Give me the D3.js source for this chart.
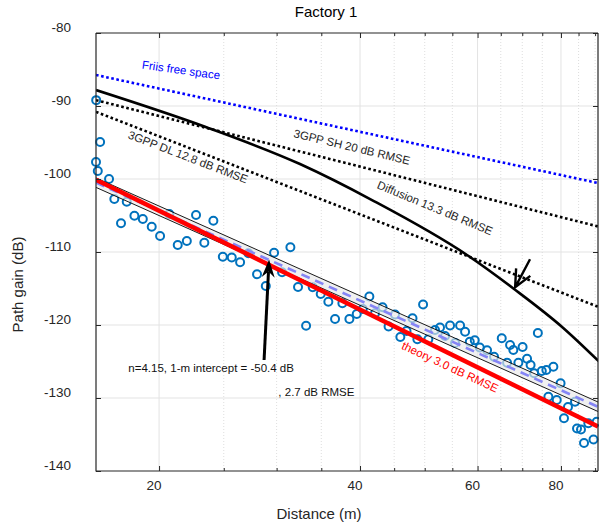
<!DOCTYPE html>
<html><head><meta charset="utf-8">
<script src="https://cdn.jsdelivr.net/npm/d3@7"></script>
<style>
body{margin:0;background:#fff}
text{font-family:"Liberation Sans",Arial,Helvetica,sans-serif}
</style>
</head><body>
<svg id="c" width="599" height="524"></svg>
<script>
// ---------------- data ----------------
const measDist = [16.1,16.32,16.09,16.19,16.83,17.14,17.89,17.54,18.37,18.91,19.5,20.07,20.72,21.33,22.01,22.72,23.38,24.12,24.92,25.7,26.45,27.22,28.04,28.9,29.74,30.57,31.46,32.3,33.21,33.98,34.93,35.86,36.7,37.64,38.56,39.55,40.38,41.31,42.13,43.23,44.14,45.13,45.97,46.96,47.94,48.75,49.72,50.63,51.81,52.71,53.63,54.57,55.52,56.49,57.47,58.41,59.42,60.46,62.0,63.51,65.22,66.43,67.12,67.88,69.07,70.08,71.17,72.04,72.91,73.87,74.88,76.07,77.93,79.89,76.6,78.84,83.97,81.96,80.84,84.55,85.72,87.91,90.5,86.62,89.5];
const measGain = [-89.2,-94.93,-97.67,-98.9,-100.0,-102.74,-103.11,-106.07,-105.03,-105.48,-106.53,-107.81,-104.79,-109.04,-108.49,-104.93,-108.73,-105.71,-110.64,-110.75,-111.41,-110.18,-113.05,-114.66,-110.1,-112.78,-109.36,-114.79,-120.1,-114.84,-115.75,-116.81,-119.18,-117.03,-119.18,-118.49,-117.81,-116.1,-118.4,-117.58,-120.21,-118.56,-121.64,-120.82,-119.08,-121.96,-117.19,-121.96,-120.68,-120.34,-121.51,-120.07,-122.47,-120.07,-120.92,-122.29,-122.1,-123.08,-123.47,-124.34,-121.82,-125.16,-122.74,-123.42,-125.16,-123.01,-124.63,-125.48,-126.62,-121.1,-126.3,-126.16,-125.71,-127.99,-129.82,-130.27,-130.51,-131.23,-132.78,-134.18,-134.32,-133.47,-133.25,-136.16,-135.68];

const lineDist   = [16.09, 90.9];
const friisGain  = [-85.75, -100.55];
const shGain     = [-89.2, -106.5];
const dlGain     = [-90.8, -117.5];
const theoryGain = [-100.1, -133.9];
const fitGain    = [-100.5, -131.2];
const bandUpper  = [-99.85, -130.55];
const bandLower  = [-101.15, -131.85];

const diffDist = [16.09, 23.44, 32.52, 41.69, 57.86, 68.05, 80.31, 91.21];
const diffGain = [-87.81, -92.84, -97.95, -102.88, -110.41, -115.07, -120.27, -125.0];

const xMajor = [20, 40, 60, 80];
const xMinor = [25, 30, 35, 45, 50, 55, 65, 70, 75, 85, 90];
const yTicks = [-140, -130, -120, -110, -100, -90, -80];

// ---------------- layout ----------------
const L = 96, R = 598, T = 33, B = 471;
const svg = d3.select('#c');
const x = d3.scaleLog().domain([16.09, 90.9]).range([L, R]);
const y = d3.scaleLinear().domain([-140, -80]).range([B, T]);
const axisColor = '#262626';

svg.append('defs').append('clipPath').attr('id', 'clip')
  .append('rect').attr('x', L).attr('y', T).attr('width', R - L).attr('height', B - T);

// grid
const grid = svg.append('g');
grid.selectAll('.hg').data(yTicks.filter(v => v > -140 && v < -80)).join('line')
  .attr('x1', L).attr('x2', R).attr('y1', d => y(d)).attr('y2', d => y(d))
  .attr('stroke', '#e3e3e3').attr('stroke-width', 1);
grid.selectAll('.vg').data(xMajor).join('line')
  .attr('x1', d => x(d)).attr('x2', d => x(d)).attr('y1', T).attr('y2', B)
  .attr('stroke', '#e3e3e3').attr('stroke-width', 1);
grid.selectAll('.vm').data(xMinor).join('line')
  .attr('x1', d => x(d)).attr('x2', d => x(d)).attr('y1', T).attr('y2', B)
  .attr('stroke', '#d6d6d6').attr('stroke-width', 0.8).attr('stroke-dasharray', '1,2');

// scatter
svg.append('g').selectAll('circle').data(d3.zip(measDist, measGain)).join('circle')
  .attr('cx', d => x(d[0])).attr('cy', d => y(d[1])).attr('r', 4)
  .attr('fill', 'none').attr('stroke', '#0072BD').attr('stroke-width', 2);

const plot = svg.append('g').attr('clip-path', 'url(#clip)');
const line = d3.line().x(d => x(d[0])).y(d => y(d[1]));

// fit band
plot.append('path').datum(d3.zip(lineDist, bandUpper, bandLower))
  .attr('d', d3.area().x(d => x(d[0])).y0(d => y(d[1])).y1(d => y(d[2])))
  .attr('fill', 'rgba(232,232,232,0.65)');
[bandUpper, bandLower].forEach(g => {
  plot.append('path').datum(d3.zip(lineDist, g)).attr('d', line)
    .attr('fill', 'none').attr('stroke', '#000').attr('stroke-width', 0.9);
});
plot.append('path').datum(d3.zip(lineDist, fitGain)).attr('d', line)
  .attr('fill', 'none').attr('stroke', '#8585f5').attr('stroke-width', 2.6)
  .attr('stroke-dasharray', '9,6');
// theory
plot.append('path').datum(d3.zip(lineDist, theoryGain)).attr('d', line)
  .attr('fill', 'none').attr('stroke', '#ff0000').attr('stroke-width', 4.5);
// friis
plot.append('path').datum(d3.zip(lineDist, friisGain)).attr('d', line)
  .attr('fill', 'none').attr('stroke', '#0000ff').attr('stroke-width', 2.6)
  .attr('stroke-dasharray', '2.6,2.6');
// 3GPP
[shGain, dlGain].forEach(g => {
  plot.append('path').datum(d3.zip(lineDist, g)).attr('d', line)
    .attr('fill', 'none').attr('stroke', '#000').attr('stroke-width', 2.6)
    .attr('stroke-dasharray', '2.6,2.6');
});
// diffusion
plot.append('path').datum(d3.zip(diffDist, diffGain))
  .attr('d', d3.line().x(d => x(d[0])).y(d => y(d[1])).curve(d3.curveMonotoneX))
  .attr('fill', 'none').attr('stroke', '#000').attr('stroke-width', 2.6);

// axes
function styleAxis(g) {
  g.selectAll('.domain').remove();
  g.selectAll('line').attr('stroke', axisColor);
}
const fmt = d => String(d);
const gxB = svg.append('g').attr('transform', `translate(0,${B})`)
  .call(d3.axisBottom(x).tickValues(xMajor).tickFormat(fmt).tickSizeInner(-5).tickSizeOuter(0));
styleAxis(gxB);
gxB.selectAll('text').attr('y', 19).attr('dy', null).attr('dx', -5.5)
  .attr('fill', axisColor).style('font-size', '13.5px');
const gxBm = svg.append('g').attr('transform', `translate(0,${B})`)
  .call(d3.axisBottom(x).tickValues(xMinor).tickFormat('').tickSizeInner(-3).tickSizeOuter(0));
styleAxis(gxBm);
const gxT = svg.append('g').attr('transform', `translate(0,${T})`)
  .call(d3.axisTop(x).tickValues(xMajor).tickFormat('').tickSizeInner(-5).tickSizeOuter(0));
styleAxis(gxT);
const gxTm = svg.append('g').attr('transform', `translate(0,${T})`)
  .call(d3.axisTop(x).tickValues(xMinor).tickFormat('').tickSizeInner(-3).tickSizeOuter(0));
styleAxis(gxTm);
const gyL = svg.append('g').attr('transform', `translate(${L},0)`)
  .call(d3.axisLeft(y).tickValues(yTicks).tickFormat(fmt).tickSizeInner(-5).tickSizeOuter(0));
styleAxis(gyL);
gyL.selectAll('text').attr('x', -25).attr('dy', '0.35em').attr('y', -6.5)
  .attr('fill', axisColor).style('font-size', '13.5px');
const gyR = svg.append('g').attr('transform', `translate(${R},0)`)
  .call(d3.axisRight(y).tickValues(yTicks).tickFormat('').tickSizeInner(-5).tickSizeOuter(0));
styleAxis(gyR);

// box
svg.append('path').attr('d', `M${L},${T}H${R}M${L},${T}V${B}H${R}M${R},${T}V${B}`)
  .attr('fill', 'none').attr('stroke', axisColor).attr('stroke-width', 1.2);

// arrows
function arrowOpen(tail, tip) {
  const x0 = x(tail[0]), y0 = y(tail[1]), x1 = x(tip[0]), y1 = y(tip[1]);
  const a = Math.atan2(y0 - y1, x0 - x1), len = 19, sp = 25 * Math.PI / 180;
  const p = `M${x0},${y0}L${x1},${y1}M${x1 + len * Math.cos(a - sp)},${y1 + len * Math.sin(a - sp)}L${x1},${y1}L${x1 + len * Math.cos(a + sp)},${y1 + len * Math.sin(a + sp)}`;
  svg.append('path').attr('d', p).attr('fill', 'none').attr('stroke', '#000').attr('stroke-width', 2.4);
}
function arrowFilled(tail, tip) {
  const x0 = x(tail[0]), y0 = y(tail[1]), x1 = x(tip[0]), y1 = y(tip[1]);
  const a = Math.atan2(y0 - y1, x0 - x1), len = 19, sp = 20 * Math.PI / 180, notch = 12;
  svg.append('line').attr('x1', x0).attr('y1', y0)
    .attr('x2', x1 + notch * Math.cos(a)).attr('y2', y1 + notch * Math.sin(a))
    .attr('stroke', '#000').attr('stroke-width', 3);
  const p = `M${x1},${y1}L${x1 + len * Math.cos(a - sp)},${y1 + len * Math.sin(a - sp)}L${x1 + notch * Math.cos(a)},${y1 + notch * Math.sin(a)}L${x1 + len * Math.cos(a + sp)},${y1 + len * Math.sin(a + sp)}Z`;
  svg.append('path').attr('d', p).attr('fill', '#000');
}
arrowOpen([71.9, -111.0], [68.3, -114.84]);
arrowFilled([28.73, -124.79], [29.23, -111.03]);

// annotations
const ann = [
  {t: 'Friis free space', d: 21.58, g: -85.07, rot: 8, c: '#0000ff', anchor: 'middle', mid: true},
  {t: '3GPP SH 20 dB RMSE', d: 38.9, g: -95.62, rot: 13.5, c: '#262626', anchor: 'middle', mid: true},
  {t: '3GPP DL 12.8 dB RMSE', d: 22.1, g: -96.99, rot: 21, c: '#262626', anchor: 'middle', mid: true},
  {t: 'Diffusion 13.3 dB RMSE', d: 51.8, g: -103.97, rot: 22.5, c: '#262626', anchor: 'middle', mid: true},
  {t: 'theory 3.0 dB RMSE', d: 54.57, g: -125.75, rot: 25, c: '#ff0000', anchor: 'middle', mid: true},
  {t: 'n=4.15, 1-m intercept = -50.4 dB', d: 17.99, g: -126.4, rot: 0, c: '#111', anchor: 'start', mid: false},
  {t: ', 2.7 dB RMSE', d: 30.18, g: -129.73, rot: 0, c: '#111', anchor: 'start', mid: false}
];
ann.forEach(a => {
  const px = x(a.d), py = y(a.g);
  svg.append('text').attr('x', px).attr('y', py)
    .attr('dy', a.mid ? '0.35em' : null)
    .attr('text-anchor', a.anchor)
    .attr('transform', `rotate(${a.rot},${px},${py})`)
    .attr('fill', a.c).style('font-size', '11.5px').text(a.t);
});

// titles
svg.append('text').attr('x', 326).attr('y', 17).attr('text-anchor', 'middle')
  .style('font-size', '15px').attr('fill', '#000').text('Factory 1');
svg.append('text').attr('x', 319).attr('y', 519).attr('text-anchor', 'middle')
  .style('font-size', '15px').attr('fill', axisColor).text('Distance (m)');
svg.append('text').attr('transform', 'translate(23,284.5) rotate(-90)').attr('text-anchor', 'middle')
  .style('font-size', '15px').attr('fill', axisColor).text('Path gain (dB)');
</script>
</body></html>
